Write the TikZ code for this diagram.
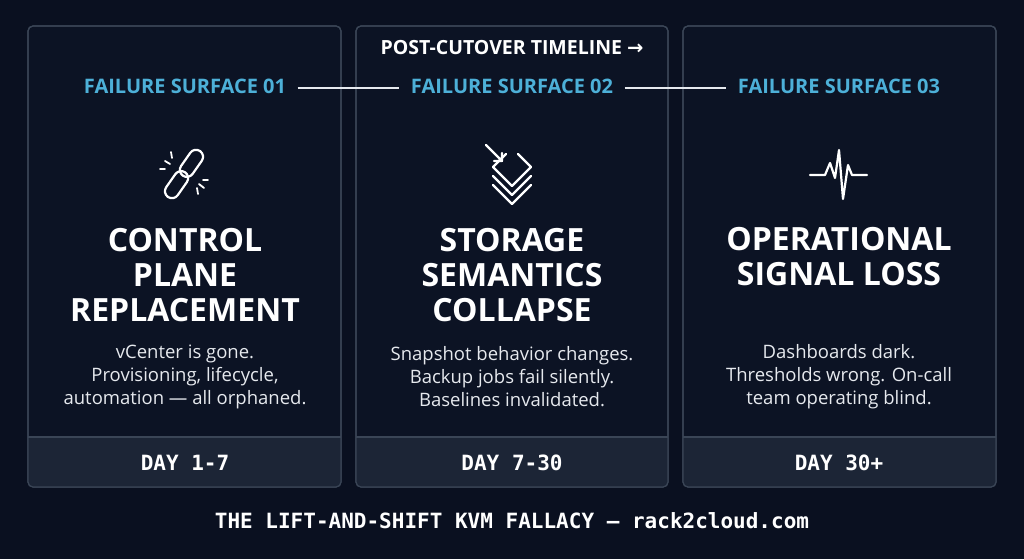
\documentclass[tikz,border=0pt]{standalone}
\usepackage{fontspec}
\usetikzlibrary{calc}
\setmainfont{Open Sans}
\newfontfamily\monof{DejaVu Sans Mono}
\newfontfamily\djv{DejaVu Sans}
\definecolor{bg}{HTML}{0A1020}
\definecolor{panel}{HTML}{0C1324}
\definecolor{strip}{HTML}{1C2536}
\definecolor{edge}{HTML}{3A4556}
\definecolor{accent}{HTML}{4DB0D8}
\definecolor{body}{HTML}{E6E9EE}
\begin{document}
\begin{tikzpicture}[x=1pt,y=-1pt,
  pan/.style={draw=edge,line width=1.2pt,fill=panel,rounded corners=5pt},
  lab/.style={text=accent,font=\fontsize{20}{24}\selectfont\bfseries},
  ttl/.style={text=white,font=\fontsize{32}{35}\selectfont\bfseries,align=center},
  txt/.style={text=body,font=\fontsize{18.5}{23}\selectfont,align=center},
  day/.style={text=white,font=\monof\fontsize{21}{24}\selectfont\bfseries},
  icon/.style={draw=white,line width=2.2pt,line cap=round,line join=round},
  conn/.style={draw=body,line width=1.5pt}]
\useasboundingbox (0,0) rectangle (1024,559);
\fill[bg] (0,0) rectangle (1024,559);
\foreach \a/\b/\n in {28/341/1,356/668/2,683/996/3}{
  \begin{scope}
  \path[pan] (\a,26) rectangle (\b,487);
  \clip[rounded corners=5pt] (\a,26) rectangle (\b,487);
  \fill[strip] (\a,437) rectangle (\b,487);
  \end{scope}
  \draw[edge,line width=1.2pt] (\a,437) -- (\b,437);
  \draw[pan,fill=none] (\a,26) rectangle (\b,487);
}
\node[text=white,font=\fontsize{19.5}{22}\selectfont\bfseries] (tl) at (512,48) {POST-CUTOVER TIMELINE {\djv →}};
\node[lab] (f1) at (185,86) {FAILURE SURFACE 01};
\node[lab] (f2) at (512,86) {FAILURE SURFACE 02};
\node[lab] (f3) at (839,86) {FAILURE SURFACE 03};
\draw[conn] ($(f1.east)+(8,2)$) -- ($(f2.west)+(-8,2)$);
\draw[conn] ($(f2.east)+(8,2)$) -- ($(f3.west)+(-8,2)$);
% link icon
\begin{scope}[shift={(184,174)},rotate=55]
  \draw[icon,rounded corners=7pt] (-2,-7) rectangle (28,7);
  \draw[icon,rounded corners=7pt] (-28,-7) rectangle (2,7);
\end{scope}
\draw[icon,line width=1.8pt] (165,161)--(170,164) (160,169)--(165,169) (203,180)--(208,180) (199,184)--(204,188);
\draw[icon,line width=1.8pt] (171,152)--(172,158) (197,188)--(198,194);
% layers icon
\begin{scope}[shift={(512,176)}]
  \draw[icon] (-6,-22) -- (-19,-9) -- (0,10) -- (19,-9) -- (6,-22);
  \draw[icon] (-19,0) -- (0,19) -- (19,0);
  \draw[icon] (-19,9) -- (0,28) -- (19,9);
  \draw[icon] (-26,-31) -- (-10,-15) (-10,-23) -- (-10,-15) -- (-18,-15);
\end{scope}
% pulse icon
\draw[icon] (810,175) -- (825,175) -- (830,163) -- (835,178) -- (839,150) -- (843,199) -- (848,165) -- (852,175) -- (867,175);
\node[ttl] (t1) at (185,275) {CONTROL\\PLANE\\REPLACEMENT};
\node[ttl] (t2) at (512,275) {STORAGE\\SEMANTICS\\COLLAPSE};
\node[ttl] (t3) at (839,257) {OPERATIONAL\\SIGNAL LOSS};
\node[txt] (b1) at (185,377) {vCenter is gone.\\Provisioning, lifecycle,\\automation — all orphaned.};
\node[txt] (b2) at (512,377) {Snapshot behavior changes.\\Backup jobs fail silently.\\Baselines invalidated.};
\node[txt] (b3) at (839,377) {Dashboards dark.\\Thresholds wrong. On-call\\team operating blind.};
\node[day] (d1) at (185,463) {DAY 1-7};
\node[day] (d2) at (512,463) {DAY 7-30};
\node[day] (d3) at (839,463) {DAY 30+};
\node[text=white,font=\monof\fontsize{21}{24}\selectfont\bfseries] (ft) at (512,521) {THE LIFT-AND-SHIFT KVM FALLACY — rack2cloud.com};
\end{tikzpicture}
\end{document}
